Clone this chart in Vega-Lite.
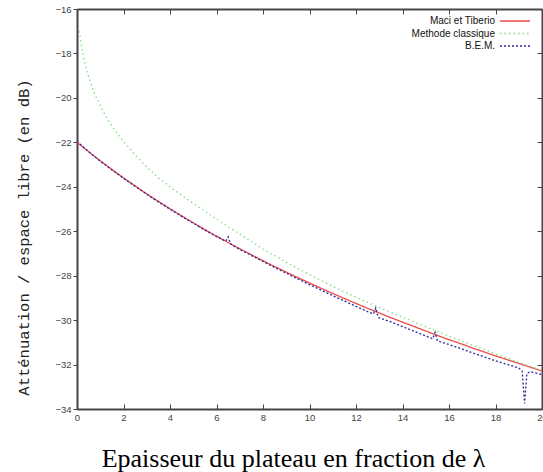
{
  "$schema": "https://vega.github.io/schema/vega-lite/v6.json",
  "width": 465,
  "height": 400,
  "autosize": "none",
  "padding": {"left": 77, "top": 9, "right": 1, "bottom": 63},
  "background": "white",
  "config": {
    "view": {"stroke": null},
    "axis": {
      "domainColor": "#444444",
      "domainWidth": 2,
      "tickColor": "#444444",
      "grid": false,
      "labelFont": "Liberation Sans",
      "labelFontSize": 9.5,
      "labelColor": "#444444"
    }
  },
  "data": {
    "values": [
      {"serie": "Maci et Tiberio", "x": 0, "y": -22.0},
      {"serie": "Maci et Tiberio", "x": 0.5, "y": -22.42},
      {"serie": "Maci et Tiberio", "x": 1, "y": -22.83},
      {"serie": "Maci et Tiberio", "x": 1.5, "y": -23.22},
      {"serie": "Maci et Tiberio", "x": 2, "y": -23.6},
      {"serie": "Maci et Tiberio", "x": 2.5, "y": -23.96},
      {"serie": "Maci et Tiberio", "x": 3, "y": -24.32},
      {"serie": "Maci et Tiberio", "x": 3.5, "y": -24.66},
      {"serie": "Maci et Tiberio", "x": 4, "y": -24.99},
      {"serie": "Maci et Tiberio", "x": 4.5, "y": -25.31},
      {"serie": "Maci et Tiberio", "x": 5, "y": -25.62},
      {"serie": "Maci et Tiberio", "x": 5.5, "y": -25.93},
      {"serie": "Maci et Tiberio", "x": 6, "y": -26.22},
      {"serie": "Maci et Tiberio", "x": 6.5, "y": -26.51},
      {"serie": "Maci et Tiberio", "x": 7, "y": -26.79},
      {"serie": "Maci et Tiberio", "x": 7.5, "y": -27.06},
      {"serie": "Maci et Tiberio", "x": 8, "y": -27.33},
      {"serie": "Maci et Tiberio", "x": 8.5, "y": -27.59},
      {"serie": "Maci et Tiberio", "x": 9, "y": -27.84},
      {"serie": "Maci et Tiberio", "x": 9.5, "y": -28.09},
      {"serie": "Maci et Tiberio", "x": 10, "y": -28.33},
      {"serie": "Maci et Tiberio", "x": 10.5, "y": -28.57},
      {"serie": "Maci et Tiberio", "x": 11, "y": -28.8},
      {"serie": "Maci et Tiberio", "x": 11.5, "y": -29.03},
      {"serie": "Maci et Tiberio", "x": 12, "y": -29.25},
      {"serie": "Maci et Tiberio", "x": 12.5, "y": -29.47},
      {"serie": "Maci et Tiberio", "x": 13, "y": -29.68},
      {"serie": "Maci et Tiberio", "x": 13.5, "y": -29.89},
      {"serie": "Maci et Tiberio", "x": 14, "y": -30.09},
      {"serie": "Maci et Tiberio", "x": 14.5, "y": -30.29},
      {"serie": "Maci et Tiberio", "x": 15, "y": -30.49},
      {"serie": "Maci et Tiberio", "x": 15.5, "y": -30.69},
      {"serie": "Maci et Tiberio", "x": 16, "y": -30.88},
      {"serie": "Maci et Tiberio", "x": 16.5, "y": -31.06},
      {"serie": "Maci et Tiberio", "x": 17, "y": -31.25},
      {"serie": "Maci et Tiberio", "x": 17.5, "y": -31.43},
      {"serie": "Maci et Tiberio", "x": 18, "y": -31.61},
      {"serie": "Maci et Tiberio", "x": 18.5, "y": -31.78},
      {"serie": "Maci et Tiberio", "x": 19, "y": -31.95},
      {"serie": "Maci et Tiberio", "x": 19.5, "y": -32.12},
      {"serie": "Maci et Tiberio", "x": 20, "y": -32.29},

      {"serie": "Methode classique", "x": 0.1, "y": -17.0},
      {"serie": "Methode classique", "x": 0.2, "y": -17.75},
      {"serie": "Methode classique", "x": 0.35, "y": -18.5},
      {"serie": "Methode classique", "x": 0.5, "y": -19.05},
      {"serie": "Methode classique", "x": 0.75, "y": -19.8},
      {"serie": "Methode classique", "x": 1.0, "y": -20.35},
      {"serie": "Methode classique", "x": 1.25, "y": -20.85},
      {"serie": "Methode classique", "x": 1.5, "y": -21.25},
      {"serie": "Methode classique", "x": 1.75, "y": -21.62},
      {"serie": "Methode classique", "x": 2.0, "y": -21.95},
      {"serie": "Methode classique", "x": 2.5, "y": -22.57},
      {"serie": "Methode classique", "x": 3.0, "y": -23.12},
      {"serie": "Methode classique", "x": 3.5, "y": -23.6},
      {"serie": "Methode classique", "x": 4.0, "y": -24.0},
      {"serie": "Methode classique", "x": 4.5, "y": -24.38},
      {"serie": "Methode classique", "x": 5.0, "y": -24.75},
      {"serie": "Methode classique", "x": 5.5, "y": -25.1},
      {"serie": "Methode classique", "x": 6.0, "y": -25.45},
      {"serie": "Methode classique", "x": 6.5, "y": -25.8},
      {"serie": "Methode classique", "x": 7.0, "y": -26.13},
      {"serie": "Methode classique", "x": 7.5, "y": -26.46},
      {"serie": "Methode classique", "x": 8.0, "y": -26.8},
      {"serie": "Methode classique", "x": 8.5, "y": -27.1},
      {"serie": "Methode classique", "x": 9.0, "y": -27.4},
      {"serie": "Methode classique", "x": 9.5, "y": -27.68},
      {"serie": "Methode classique", "x": 10.0, "y": -27.95},
      {"serie": "Methode classique", "x": 10.5, "y": -28.22},
      {"serie": "Methode classique", "x": 11.0, "y": -28.48},
      {"serie": "Methode classique", "x": 11.5, "y": -28.73},
      {"serie": "Methode classique", "x": 12.0, "y": -28.97},
      {"serie": "Methode classique", "x": 12.5, "y": -29.2},
      {"serie": "Methode classique", "x": 13.0, "y": -29.43},
      {"serie": "Methode classique", "x": 13.5, "y": -29.65},
      {"serie": "Methode classique", "x": 14.0, "y": -29.87},
      {"serie": "Methode classique", "x": 14.5, "y": -30.08},
      {"serie": "Methode classique", "x": 15.0, "y": -30.3},
      {"serie": "Methode classique", "x": 15.5, "y": -30.51},
      {"serie": "Methode classique", "x": 16.0, "y": -30.72},
      {"serie": "Methode classique", "x": 16.5, "y": -30.92},
      {"serie": "Methode classique", "x": 17.0, "y": -31.12},
      {"serie": "Methode classique", "x": 17.5, "y": -31.32},
      {"serie": "Methode classique", "x": 18.0, "y": -31.52},
      {"serie": "Methode classique", "x": 18.5, "y": -31.71},
      {"serie": "Methode classique", "x": 19.0, "y": -31.9},
      {"serie": "Methode classique", "x": 19.5, "y": -32.08},
      {"serie": "Methode classique", "x": 20.0, "y": -32.27},

      {"serie": "B.E.M.", "x": 0, "y": -21.95},
      {"serie": "B.E.M.", "x": 0.5, "y": -22.42},
      {"serie": "B.E.M.", "x": 1, "y": -22.85},
      {"serie": "B.E.M.", "x": 1.5, "y": -23.24},
      {"serie": "B.E.M.", "x": 2, "y": -23.62},
      {"serie": "B.E.M.", "x": 2.5, "y": -23.98},
      {"serie": "B.E.M.", "x": 3, "y": -24.34},
      {"serie": "B.E.M.", "x": 3.5, "y": -24.68},
      {"serie": "B.E.M.", "x": 4, "y": -25.01},
      {"serie": "B.E.M.", "x": 4.5, "y": -25.33},
      {"serie": "B.E.M.", "x": 5, "y": -25.64},
      {"serie": "B.E.M.", "x": 5.5, "y": -25.95},
      {"serie": "B.E.M.", "x": 6, "y": -26.24},
      {"serie": "B.E.M.", "x": 6.4, "y": -26.45},
      {"serie": "B.E.M.", "x": 6.5, "y": -26.25},
      {"serie": "B.E.M.", "x": 6.6, "y": -26.57},
      {"serie": "B.E.M.", "x": 7, "y": -26.82},
      {"serie": "B.E.M.", "x": 7.5, "y": -27.09},
      {"serie": "B.E.M.", "x": 8, "y": -27.36},
      {"serie": "B.E.M.", "x": 8.5, "y": -27.63},
      {"serie": "B.E.M.", "x": 9, "y": -27.89},
      {"serie": "B.E.M.", "x": 9.5, "y": -28.15},
      {"serie": "B.E.M.", "x": 10, "y": -28.4},
      {"serie": "B.E.M.", "x": 10.5, "y": -28.65},
      {"serie": "B.E.M.", "x": 11, "y": -28.9},
      {"serie": "B.E.M.", "x": 11.5, "y": -29.14},
      {"serie": "B.E.M.", "x": 12, "y": -29.38},
      {"serie": "B.E.M.", "x": 12.5, "y": -29.62},
      {"serie": "B.E.M.", "x": 12.75, "y": -29.72},
      {"serie": "B.E.M.", "x": 12.85, "y": -29.45},
      {"serie": "B.E.M.", "x": 12.95, "y": -29.88},
      {"serie": "B.E.M.", "x": 13.5, "y": -30.08},
      {"serie": "B.E.M.", "x": 14, "y": -30.29},
      {"serie": "B.E.M.", "x": 14.5, "y": -30.5},
      {"serie": "B.E.M.", "x": 15, "y": -30.71},
      {"serie": "B.E.M.", "x": 15.3, "y": -30.84},
      {"serie": "B.E.M.", "x": 15.4, "y": -30.55},
      {"serie": "B.E.M.", "x": 15.5, "y": -30.93},
      {"serie": "B.E.M.", "x": 16, "y": -31.1},
      {"serie": "B.E.M.", "x": 16.5, "y": -31.28},
      {"serie": "B.E.M.", "x": 17, "y": -31.47},
      {"serie": "B.E.M.", "x": 17.5, "y": -31.65},
      {"serie": "B.E.M.", "x": 18, "y": -31.83},
      {"serie": "B.E.M.", "x": 18.5, "y": -31.99},
      {"serie": "B.E.M.", "x": 19, "y": -32.15},
      {"serie": "B.E.M.", "x": 19.15, "y": -32.3},
      {"serie": "B.E.M.", "x": 19.25, "y": -33.75},
      {"serie": "B.E.M.", "x": 19.35, "y": -32.4},
      {"serie": "B.E.M.", "x": 19.5, "y": -32.32},
      {"serie": "B.E.M.", "x": 20, "y": -32.45}
    ]
  },
  "layer": [
    {
      "mark": {"type": "line", "strokeWidth": 1.3, "clip": true},
      "encoding": {
        "x": {
          "field": "x", "type": "quantitative",
          "scale": {"domain": [0, 20], "nice": false},
          "axis": {
            "orient": "bottom",
            "values": [0, 2, 4, 6, 8, 10, 12, 14, 16, 18, 20],
            "tickSize": -5,
            "labelPadding": 8,
            "labelFlush": false,
            "labelOverlap": false,
            "title": "Epaisseur du plateau en fraction de λ",
            "titleFont": "Liberation Serif",
            "titleFontSize": 26,
            "titleFontWeight": "normal",
            "titleColor": "#000000",
            "titleX": 216,
            "titleY": 57,
            "titleAlign": "center",
            "titleBaseline": "alphabetic"
          }
        },
        "y": {
          "field": "y", "type": "quantitative",
          "scale": {"domain": [-34, -16], "nice": false, "zero": false},
          "axis": {
            "orient": "left",
            "values": [-34, -32, -30, -28, -26, -24, -22, -20, -18, -16],
            "tickSize": 4,
            "labelPadding": 2,
            "labelOverlap": false,
            "labelFlush": false,
            "title": "Atténuation / espace libre (en dB)",
            "titleFont": "Liberation Mono",
            "titleFontSize": 15.5,
            "titleFontWeight": "normal",
            "titleColor": "#222222",
            "titleAngle": -90,
            "titleX": -54,
            "titleY": 228,
            "titleAlign": "center",
            "titleBaseline": "middle"
          }
        },
        "color": {
          "field": "serie", "type": "nominal",
          "scale": {
            "domain": ["Maci et Tiberio", "Methode classique", "B.E.M."],
            "range": ["#ee4a4a", "#7fe07f", "#2a2aa0"]
          },
          "legend": {
            "orient": "none",
            "legendX": 432,
            "legendY": 6,
            "title": null,
            "symbolType": "M-3,0H3",
            "symbolSize": 100,
            "symbolStrokeWidth": 1.5,
            "labelAlign": "right",
            "labelOffset": -26,
            "labelFont": "Liberation Sans",
            "labelFontSize": 10,
            "labelColor": "#111111",
            "rowPadding": 1.5,
            "labelLimit": 200
          }
        },
        "strokeDash": {
          "field": "serie", "type": "nominal",
          "scale": {
            "domain": ["Maci et Tiberio", "Methode classique", "B.E.M."],
            "range": [[1, 0], [1.5, 3], [2, 2]]
          },
          "legend": null
        },
        "order": {"field": "x", "type": "quantitative"}
      }
    },
    {
      "mark": {"type": "point", "opacity": 0, "size": 1},
      "encoding": {
        "x": {
          "field": "x", "type": "quantitative",
          "axis": {
            "orient": "top",
            "values": [0, 2, 4, 6, 8, 10, 12, 14, 16, 18, 20],
            "tickSize": -5,
            "labels": false,
            "title": null
          }
        },
        "y": {
          "field": "y", "type": "quantitative",
          "axis": {
            "orient": "right",
            "values": [-34, -32, -30, -28, -26, -24, -22, -20, -18, -16],
            "tickSize": -5,
            "labels": false,
            "title": null
          }
        }
      }
    }
  ],
  "resolve": {"axis": {"x": "independent", "y": "independent"}}
}
